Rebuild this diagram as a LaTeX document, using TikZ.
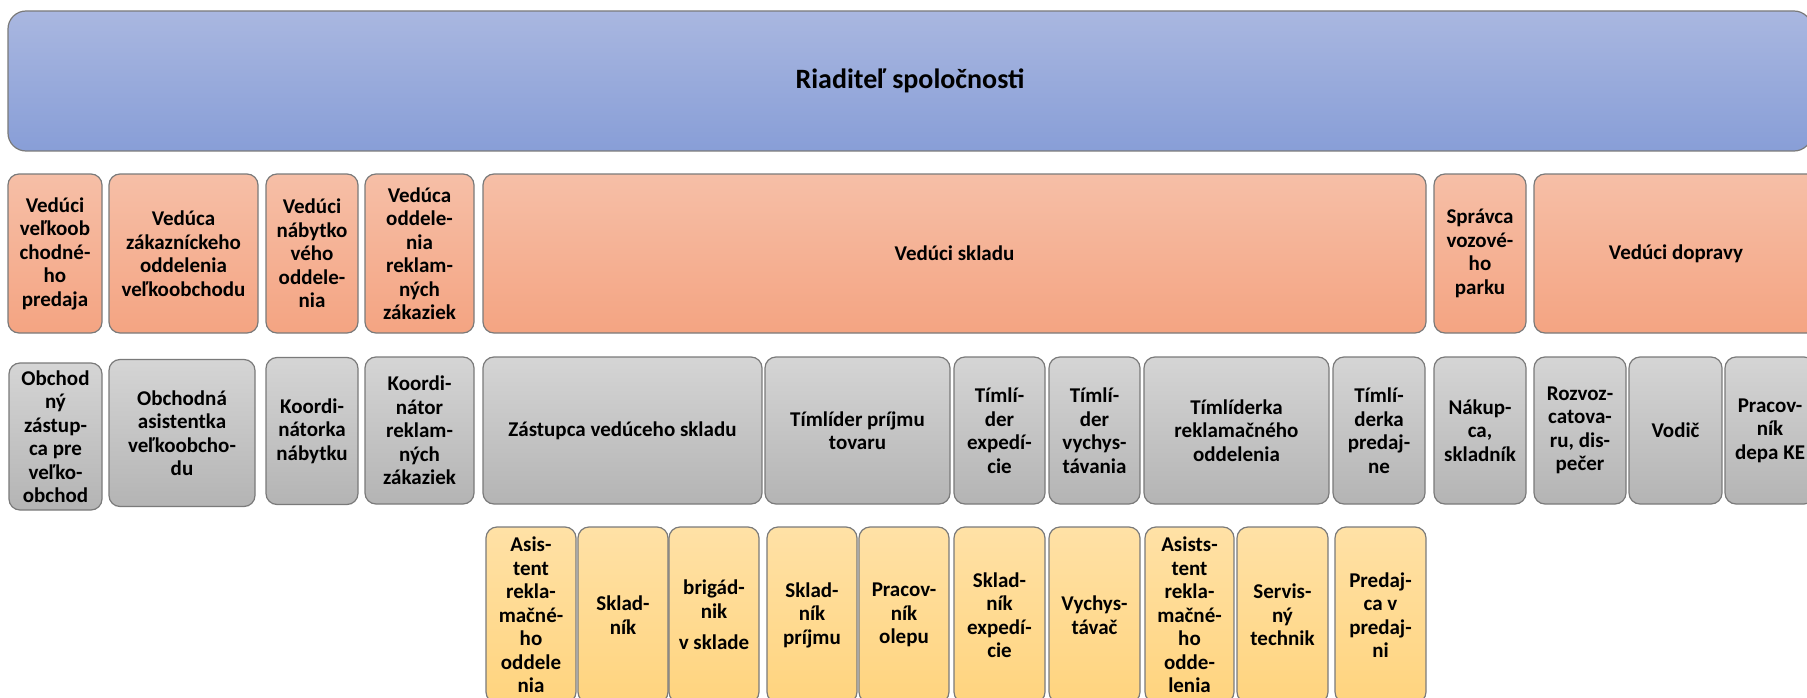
\documentclass[tikz,border=0pt]{standalone}
\usepackage{fontspec}
\setmainfont{Carlito}
\usepackage{tikz}

\definecolor{boxline}{HTML}{7A7A7A}
\definecolor{bossTop}{HTML}{A9B7E0}
\definecolor{bossBot}{HTML}{889ED7}
\definecolor{headTop}{HTML}{F6BFA7}
\definecolor{headBot}{HTML}{F4A482}
\definecolor{leadTop}{HTML}{D5D5D5}
\definecolor{leadBot}{HTML}{B4B4B4}
\definecolor{staffTop}{HTML}{FFE1A6}
\definecolor{staffBot}{HTML}{FFD47E}

\begin{document}
\begin{tikzpicture}[x=1pt, y=-1pt,
    every node/.style={draw=boxline, line width=1.2pt, rounded corners=11pt, inner sep=0pt, align=center, text=black, font=\fontsize{21}{23.5}\selectfont\bfseries},
    boss/.style={top color=bossTop, bottom color=bossBot, rounded corners=18pt, font=\fontsize{28}{32}\selectfont\bfseries},
    head/.style={top color=headTop, bottom color=headBot, minimum height=159pt},
    lead/.style={top color=leadTop, bottom color=leadBot, minimum height=147pt},
    staff/.style={top color=staffTop, bottom color=staffBot, minimum height=176pt}]
      \clip (0, 0) rectangle (1807, 698);

      \node[boss, minimum width=1804pt, minimum height=140pt] (riaditel) at (910, 81) {Riaditeľ spoločnosti};

      \node[head, minimum width=94pt] (vVelko) at (55, 253.5) {Vedúci\\veľkoob\\chodné-\\ho\\predaja};
      \node[head, minimum width=149pt] (vZakaz) at (183.5, 253.5) {Vedúca\\zákazníckeho\\oddelenia\\veľkoobchodu};
      \node[head, minimum width=92pt] (vNabytok) at (312, 253.5) {Vedúci\\nábytko\\vého\\oddele-\\nia};
      \node[head, minimum width=109pt] (vReklam) at (419.5, 253.5) {Vedúca\\oddele-\\nia\\reklam-\\ných\\zákaziek};
      \node[head, minimum width=943pt] (vSklad) at (954.5, 253.5) {Vedúci skladu};
      \node[head, minimum width=92pt] (sprVoz) at (1480, 253.5) {Správca\\vozové-\\ho\\parku};
      \node[head, minimum width=284pt] (vDoprava) at (1676, 253.5) {Vedúci dopravy};

      \node[lead, minimum width=93pt] (obZast) at (55.5, 436.5) {Obchod\\ný\\zástup-\\ca pre\\veľko-\\obchod};
      \node[lead, minimum width=146pt] (obAsist) at (182, 433) {Obchodná\\asistentka\\veľkoobcho-\\du};
      \node[lead, minimum width=92pt] (koNabytok) at (312, 431) {Koordi-\\nátorka\\nábytku};
      \node[lead, minimum width=109pt] (koReklam) at (419.5, 430.5) {Koordi-\\nátor\\reklam-\\ných\\zákaziek};
      \node[lead, minimum width=279pt] (zastSklad) at (622.5, 430.5) {Zástupca vedúceho skladu};
      \node[lead, minimum width=185pt] (tlPrijem) at (857.5, 430.5) {Tímlíder príjmu\\tovaru};
      \node[lead, minimum width=91pt] (tlExped) at (999.5, 430.5) {Tímlí-\\der\\expedí-\\cie};
      \node[lead, minimum width=91pt] (tlVychys) at (1094.5, 430.5) {Tímlí-\\der\\vychys-\\távania};
      \node[lead, minimum width=185pt] (tlReklam) at (1236.5, 430.5) {Tímlíderka\\reklamačného\\oddelenia};
      \node[lead, minimum width=92pt] (tlPredaj) at (1379, 430.5) {Tímlí-\\derka\\predaj-\\ne};
      \node[lead, minimum width=92pt] (nakupca) at (1480, 430.5) {Nákup-\\ca,\\skladník};
      \node[lead, minimum width=92pt] (rozvoz) at (1580, 430.5) {Rozvoz-\\catova-\\ru, dis-\\pečer};
      \node[lead, minimum width=93pt] (vodic) at (1675.5, 430.5) {Vodič};
      \node[lead, minimum width=90pt] (pracDepo) at (1770, 430.5) {Pracov-\\ník\\depa KE};

      \node[staff, minimum width=90pt] (asRekl) at (531, 615) {Asis-\\tent\\rekla-\\mačné-\\ho\\oddele\\nia};
      \node[staff, minimum width=90pt] (skladnik) at (623, 615) {Sklad-\\ník};
      \node[staff, minimum width=90pt] (brigadnik) at (714, 615) {brigád-\\nik\\[8pt]v sklade};
      \node[staff, minimum width=90pt] (skPrijem) at (812, 615) {Sklad-\\ník\\príjmu};
      \node[staff, minimum width=90pt] (pracOlep) at (904, 615) {Pracov-\\ník\\olepu};
      \node[staff, minimum width=91pt] (skExped) at (999.5, 615) {Sklad-\\ník\\expedí-\\cie};
      \node[staff, minimum width=91pt] (vychystavac) at (1094.5, 615) {Vychys-\\távač};
      \node[staff, minimum width=89pt] (asReklOdd) at (1189.5, 615) {Asists-\\tent\\rekla-\\mačné-\\ho\\odde-\\lenia};
      \node[staff, minimum width=91pt] (servis) at (1282.5, 615) {Servis-\\ný\\technik};
      \node[staff, minimum width=91pt] (predajca) at (1380.5, 615) {Predaj-\\ca v\\predaj-\\ni};
\end{tikzpicture}
\end{document}
